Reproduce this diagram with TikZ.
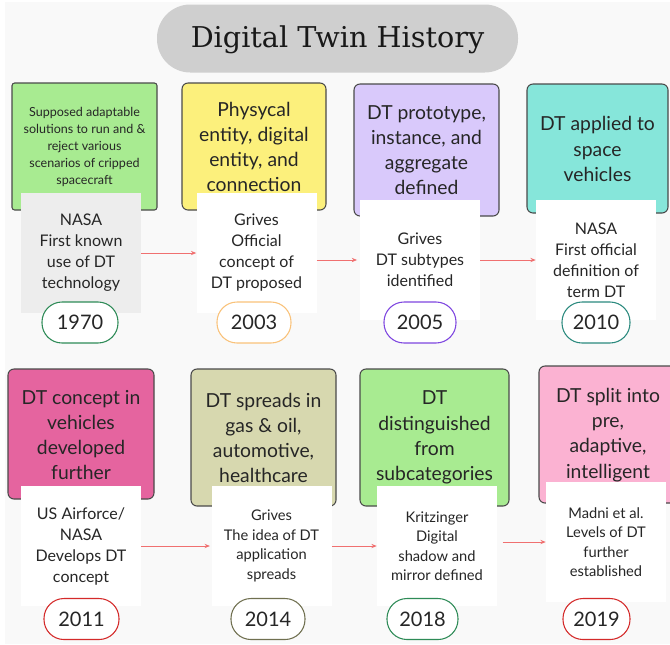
\documentclass[tikz,border=0pt]{standalone}
\usepackage{fontspec}
\setmainfont{Lato}
\newfontfamily\titlefont{DejaVu Serif}
\usetikzlibrary{arrows.meta}
\definecolor{bgc}{HTML}{F9F9F9}
\definecolor{titlec}{HTML}{CFCFCF}
\definecolor{edgec}{HTML}{4A4A4A}
\definecolor{cgreen}{HTML}{A8EB91}
\definecolor{cyellow}{HTML}{FCF07C}
\definecolor{cpurple}{HTML}{D9C9FB}
\definecolor{cteal}{HTML}{86E6DA}
\definecolor{cmagenta}{HTML}{E5649F}
\definecolor{colive}{HTML}{D7D8AF}
\definecolor{cpink}{HTML}{FBB2D2}
\definecolor{innergray}{HTML}{EDEDED}
\definecolor{arrc}{HTML}{F07070}
\definecolor{ygreen}{HTML}{2E8B57}
\definecolor{yorange}{HTML}{F9C27A}
\definecolor{ypurple}{HTML}{7E46E0}
\definecolor{yteal}{HTML}{2B8A7E}
\definecolor{yred}{HTML}{D42A2A}
\definecolor{yolive}{HTML}{707050}
\tikzset{
  topbox/.style={draw=edgec, line width=0.8pt, rounded corners=4.5pt, inner sep=0pt},
  toptext/.style={align=center, font=\fontsize{14.5}{18.9}\selectfont, text=black!85, inner sep=0pt},
  smalltext/.style={align=center, font=\fontsize{9.4}{12.75}\selectfont, text=black!85, inner sep=0pt},
  innerbox/.style={fill=white, draw=none, minimum width=120*0.75pt, minimum height=120*0.75pt, inner sep=0pt, align=center, font=\fontsize{12}{15.75}\selectfont, text=black!85},
  innersmall/.style={innerbox, font=\fontsize{11}{14.6}\selectfont},
  yearpill/.style={fill=white, line width=0.8pt, rounded corners=15pt, minimum height=41*0.75pt, inner sep=0pt, font=\fontsize{15}{18}\selectfont, text=black!85},
  arr/.style={draw=arrc, line width=0.6pt, -{Stealth[length=4pt,width=3.2pt]}},
}
\begin{document}
\begin{tikzpicture}[x=0.75pt,y=-0.75pt]
\useasboundingbox (0,0) rectangle (670,644);
\fill[bgc] (5,2) rectangle (670,644);
% title
\node[fill=titlec, rounded corners=25pt, minimum width=361*0.75pt, minimum height=68*0.75pt, inner sep=0pt] (title) at (337.5,38.5) {};
\node[font=\titlefont\fontsize{21.5}{24}\selectfont, text=black!90, inner sep=0pt] (titletext) at (337.5,40) {Digital Twin History};
% row 1 top boxes
\node[topbox, fill=cgreen, rounded corners=2pt, minimum width=145*0.75pt, minimum height=127*0.75pt] (b1) at (84.5,146.5) {};
\node[topbox, fill=cyellow, minimum width=144*0.75pt, minimum height=127*0.75pt] (b2) at (254,146.5) {};
\node[topbox, fill=cpurple, minimum width=145*0.75pt, minimum height=132*0.75pt] (b3) at (426.5,150) {};
\node[topbox, fill=cteal, minimum width=141*0.75pt, minimum height=129*0.75pt] (b4) at (597.5,148.5) {};
\node[smalltext] (t1) at (84.5,147) {Supposed adaptable\\solutions to run and \&\\reject various\\scenarios of cripped\\spacecraft};
\node[toptext] (t2) at (254,147) {Physycal\\entity, digital\\entity, and\\connection};
\node[toptext] (t3) at (426.5,150) {DT prototype,\\instance, and\\aggregate\\defined};
\node[toptext] (t4) at (597.5,149) {DT applied to\\space\\vehicles};
% row 1 inner boxes
\node[innerbox, fill=innergray] (i1) at (81,253) {NASA\\First known\\use of DT\\technology};
\node[innerbox] (i2) at (256.5,253) {Grives\\Official\\concept of\\DT proposed};
\node[innerbox] (i3) at (420,260) {Grives\\DT subtypes\\identified};
\node[innerbox] (i4) at (596,260) {NASA\\First official\\definition of\\term DT};
\draw[arr] (i1.east) -- (i2.west);
\draw[arr] (i2.east |- i3.west) -- ([xshift=-2pt]i3.west);
\draw[arr] (i3.east) -- (i4.west);
% row 1 years
\node[yearpill, draw=ygreen, minimum width=76*0.75pt] (y1) at (80,322.5) {1970};
\node[yearpill, draw=yorange, minimum width=74*0.75pt] (y2) at (254,322.5) {2003};
\node[yearpill, draw=ypurple, minimum width=72*0.75pt] (y3) at (420,322.5) {2005};
\node[yearpill, draw=yteal, minimum width=68*0.75pt] (y4) at (596,322.5) {2010};
% row 2 top boxes
\node[topbox, fill=cmagenta, minimum width=146*0.75pt, minimum height=130*0.75pt] (b5) at (81,434) {};
\node[topbox, fill=colive, minimum width=145*0.75pt, minimum height=137*0.75pt] (b6) at (263.5,437.5) {};
\node[topbox, fill=cgreen, minimum width=149*0.75pt, minimum height=137*0.75pt] (b7) at (434.5,437.5) {};
\node[topbox, fill=cpink, minimum width=140*0.75pt, minimum height=137*0.75pt] (b8) at (609,434.5) {};
\node[toptext] (t5) at (81,435) {DT concept in\\vehicles\\developed\\further};
\node[toptext] (t6) at (263.5,438) {DT spreads in\\gas \& oil,\\automotive,\\healthcare};
\node[toptext] (t7) at (434.5,437.5) {DT\\distinguished\\from\\subcategories};
\node[toptext] (t8) at (608,435) {DT split into\\pre,\\adaptive,\\intelligent};
% row 2 inner boxes
\node[innerbox] (i5) at (81,546) {US Airforce/\\NASA\\Develops DT\\concept};
\node[innersmall] (i6) at (271.5,546) {Grives\\The idea of DT\\application\\spreads};
\node[innersmall] (i7) at (437,546) {Kritzinger\\Digital\\shadow and\\mirror defined};
\node[innersmall] (i8) at (606,542) {Madni et al.\\Levels of DT\\further\\established};
\draw[arr] (i5.east) -- ([xshift=-1pt]i6.west);
\draw[arr] (i6.east) -- (i7.west);
\draw[arr] ([xshift=4pt]i7.east |- i8.west) -- (i8.west);
% row 2 years
\node[yearpill, draw=yred, minimum width=75*0.75pt] (y5) at (81.5,619) {2011};
\node[yearpill, draw=yolive, minimum width=74*0.75pt] (y6) at (268,619) {2014};
\node[yearpill, draw=ygreen, minimum width=71*0.75pt] (y7) at (422.5,619) {2018};
\node[yearpill, draw=yred, minimum width=67*0.75pt] (y8) at (596.5,619) {2019};
\end{tikzpicture}
\end{document}
